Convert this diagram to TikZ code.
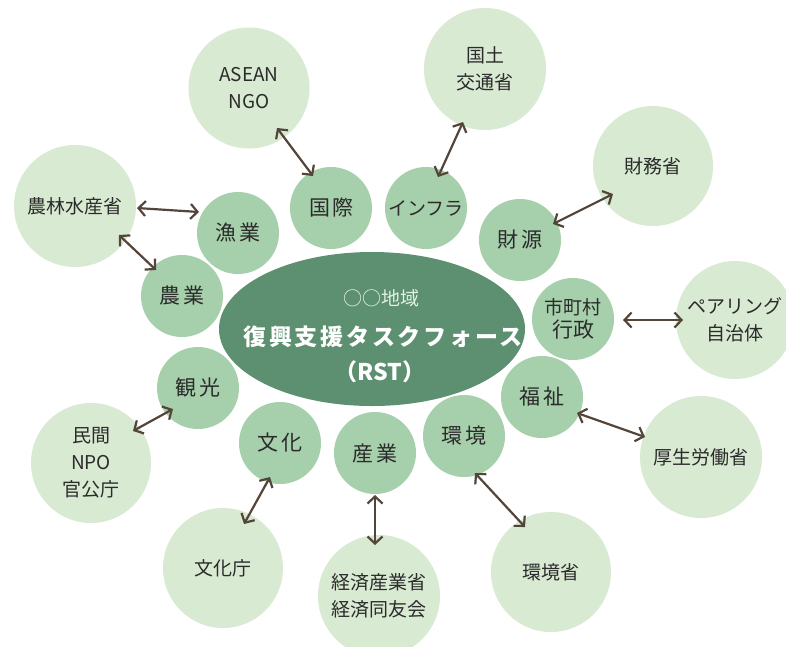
\documentclass[tikz,border=0pt]{standalone}
\usepackage{fontspec}
\setmainfont{Noto Sans CJK JP}
\usetikzlibrary{arrows.meta,calc,shapes.geometric}
\definecolor{outerc}{HTML}{D8EAD2}
\definecolor{innerc}{HTML}{A6CFAB}
\definecolor{ellc}{HTML}{5C9070}
\definecolor{txtc}{HTML}{2B2B2B}
\definecolor{arrc}{HTML}{54453A}
\definecolor{lightw}{HTML}{E4EFE6}
\begin{document}
\begin{tikzpicture}[x=1pt,y=-1pt,
  outer/.style={circle,fill=outerc,draw=none,minimum size=#1,inner sep=0pt,align=center,text=txtc,font=\fontsize{19}{27}\selectfont},
  outer/.default=120pt,
  inner/.style={circle,fill=innerc,draw=none,minimum size=82pt,inner sep=0pt,align=center,text=txtc,font=\fontsize{21}{23}\selectfont},
  arr/.style={draw=arrc,line width=2.2pt,{Straight Barb[length=7pt,width=15pt]}-{Straight Barb[length=7pt,width=15pt]}},
  ctext/.style={text=white,inner sep=0pt}
]
\useasboundingbox (0,0) rectangle (786,646);
\fill[white] (0,0) rectangle (786,646);

% outer circles
\node[outer=121pt] (asean) at (249,88) {ASEAN\\NGO};
\node[outer=122pt] (kokudo) at (485,69) {国土\\交通省};
\node[outer=120pt] (zaimusho) at (653,166) {財務省};
\node[outer=122pt] (norin) at (75,206) {農林水産省};
\node[outer=118pt] (pair) at (735,320) {ペアリング\\自治体};
\node[outer=122pt] (kosei) at (701,457) {厚生労働省};
\node[outer=120pt] (minkan) at (91,463) {民間\\NPO\\官公庁};
\node[outer=120pt] (bunkacho) at (223,568) {文化庁};
\node[outer=122pt] (keizai) at (379,596) {経済産業省\\経済同友会};
\node[outer=120pt] (kankyosho) at (551,572) {環境省};

% central ellipse
\node[ellipse,fill=ellc,draw=none,minimum width=306pt,minimum height=154pt,inner sep=0pt] (rst) at (372,329) {};
\node[ctext,text=lightw,font=\fontsize{19}{19}\selectfont] (region) at (381,298) {○○地域};
\node[ctext,font=\fontsize{23}{23}\selectfont\bfseries\addfontfeature{LetterSpace=12}] (title) at (383,337) {復興支援タスクフォース};
\node[ctext,font=\fontsize{23}{23}\selectfont\bfseries] (abbr) at (380,372) {（RST）};

% inner circles
\node[inner] (gyo) at (238,233) {漁\hspace{3pt}業};
\node[inner] (kokusai) at (331,208) {国\hspace{2pt}際};
\node[inner] (infra) at (426,208) {\fontsize{19}{21}\selectfont インフラ};
\node[inner] (zaigen) at (520,240) {財\hspace{3pt}源};
\node[inner] (shicho) at (573,319) {\fontsize{19}{22}\selectfont 市町村\\行政};
\node[inner] (fukushi) at (542,397) {福\hspace{3pt}祉};
\node[inner] (kankyo) at (464,436) {環\hspace{3pt}境};
\node[inner] (sangyo) at (375,453) {産\hspace{3pt}業};
\node[inner] (bunka) at (280,443) {文\hspace{3pt}化};
\node[inner] (kanko) at (198,388) {観\hspace{3pt}光};
\node[inner] (nogyo) at (182,296) {農\hspace{3pt}業};

% connectors
\draw[arr] ($(asean.center)+(28,40)$) -- ($(kokusai.center)+(-18,-32)$);
\draw[arr] ($(norin.center)+(62,2)$) -- ($(gyo.center)+(-39,-21)$);
\draw[arr] ($(norin.center)+(44,29)$) -- ($(nogyo.center)+(-26,-26)$);
\draw[arr] ($(kokudo.center)+(-22,53)$) -- ($(infra.center)+(12,-31)$);
\draw[arr] ($(zaigen.center)+(33,-16)$) -- ($(zaimusho.center)+(-40,28)$);
\draw[arr] ($(shicho.center)+(50,1)$) -- ($(pair.center)+(-52,0)$);
\draw[arr] ($(kanko.center)+(-25,21)$) -- ($(minkan.center)+(42,-32)$);
\draw[arr] ($(bunka.center)+(-10,34)$) -- ($(bunkacho.center)+(21,-44)$);
\draw[arr] ($(sangyo.center)+(0,42)$) -- ($(keizai.center)+(-4,-51)$);
\draw[arr] ($(fukushi.center)+(35,16)$) -- ($(kosei.center)+(-56,-20)$);
\draw[arr] ($(kankyo.center)+(11,37)$) -- ($(kankyosho.center)+(-26,-45)$);
\end{tikzpicture}
\end{document}
